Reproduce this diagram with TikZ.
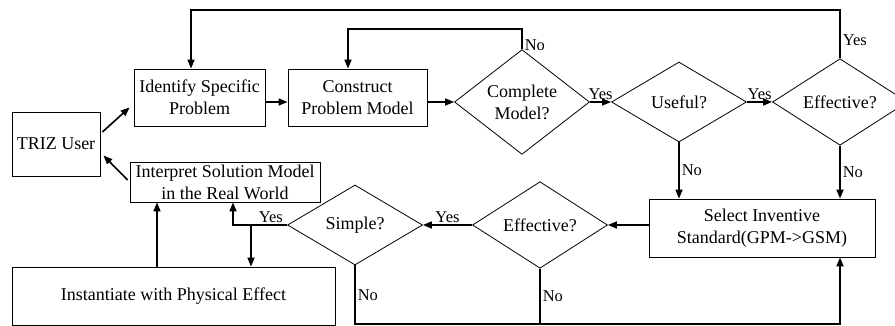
\documentclass[tikz,border=0pt]{standalone}
\usepackage{fontspec}
\setmainfont{Liberation Serif}
\usetikzlibrary{arrows.meta,shapes.geometric}

\begin{document}
\begin{tikzpicture}[x=1pt,y=-1pt,
  font=\fontsize{18}{22}\selectfont,
  box/.style={draw,line width=0.8pt,align=center,inner sep=0pt},
  decision/.style={draw,diamond,line width=0.8pt,align=center,inner sep=0pt,
    minimum width=135pt,minimum height=80pt},
  arr/.style={line width=1.6pt,-{Triangle[length=9pt,width=7pt]}},
  conn/.style={line width=1.6pt},
  lbl/.style={font=\fontsize{16.5}{18}\selectfont,inner sep=2pt}]
\useasboundingbox (0,0) rectangle (895,326);
% boxes
\node[box,minimum width=88pt,minimum height=64pt] (user) at (56,144) {TRIZ User};
\node[box,minimum width=131pt,minimum height=57pt] (identify) at (199.5,97.5) {Identify Specific\\Problem};
\node[box,minimum width=139pt,minimum height=57pt] (construct) at (357.5,97.5) {Construct\\Problem Model};
\node[box,minimum width=190pt,minimum height=40pt] (interpret) at (225,182) {Interpret Solution Model\\in the Real World};
\node[box,minimum width=323pt,minimum height=58pt] (inst) at (173.5,296) {Instantiate with Physical Effect};
\node[box,minimum width=226pt,minimum height=58pt] (select) at (762,228) {Select Inventive\\Standard(GPM->GSM)};
% decisions
\node[decision] (complete) at (522,102) {Complete\\Model?};
\node[decision] (useful) at (679,102) {Useful?};
\node[decision] (eff1) at (840,102) {Effective?};
\node[decision] (simple) at (355,225) {Simple?};
\node[decision] (eff2) at (540,225) {Effective?};
% helper coordinates
\coordinate (top1) at (0,10);
\coordinate (top2) at (0,29);
\coordinate (bot) at (0,324);
\coordinate (split) at (251,225);
% connectors
\draw[arr] ([xshift=2pt,yshift=12pt]user.east) -- ([xshift=-4pt,yshift=19pt]identify.south west);
\draw[arr] ([xshift=-2pt,yshift=2pt]interpret.west) -- ([xshift=3pt,yshift=21pt]user.south east);
\draw[arr] (identify.east |- complete) -- (construct.west |- complete);
\draw[arr] (construct.east |- complete) -- (complete.west);
\draw[arr] (complete.east) -- node[lbl,above]{Yes} (useful.west);
\draw[arr] (useful.east) -- node[lbl,above]{Yes} (eff1.west);
\draw[arr] (complete.north) -- node[lbl,right,pos=0.2]{No} (complete.north |- top2) -| ([xshift=-9.5pt]construct.north);
\draw[arr] (eff1.north) -- node[lbl,right,pos=0.37]{Yes} (eff1.north |- top1) -| ([xshift=-8.5pt]identify.north);
\draw[arr] (useful.south) -- node[lbl,right]{No} (useful.south |- select.north);
\draw[arr] (eff1.south) -- node[lbl,right]{No} (eff1.south |- select.north);
\draw[arr] (select.west |- eff2) -- (eff2.east);
\draw[arr] (eff2.west) -- node[lbl,above]{Yes} (simple.east);
\draw[arr] (simple.west) -- node[lbl,above,pos=0.3]{Yes} ([xshift=8pt]interpret.south |- simple) -- ([xshift=8pt]interpret.south);
\draw[arr] (split) -- (split |- inst.north);
\draw[arr] ([xshift=-16.5pt]inst.north) -- ([xshift=-16.5pt]inst.north |- interpret.south);
\draw[arr] (simple.south) -- node[lbl,right]{No} (simple.south |- bot) -| (eff1.south |- select.south);
\draw[conn] (eff2.south) -- node[lbl,right]{No} (eff2.south |- bot);
\end{tikzpicture}
\end{document}
